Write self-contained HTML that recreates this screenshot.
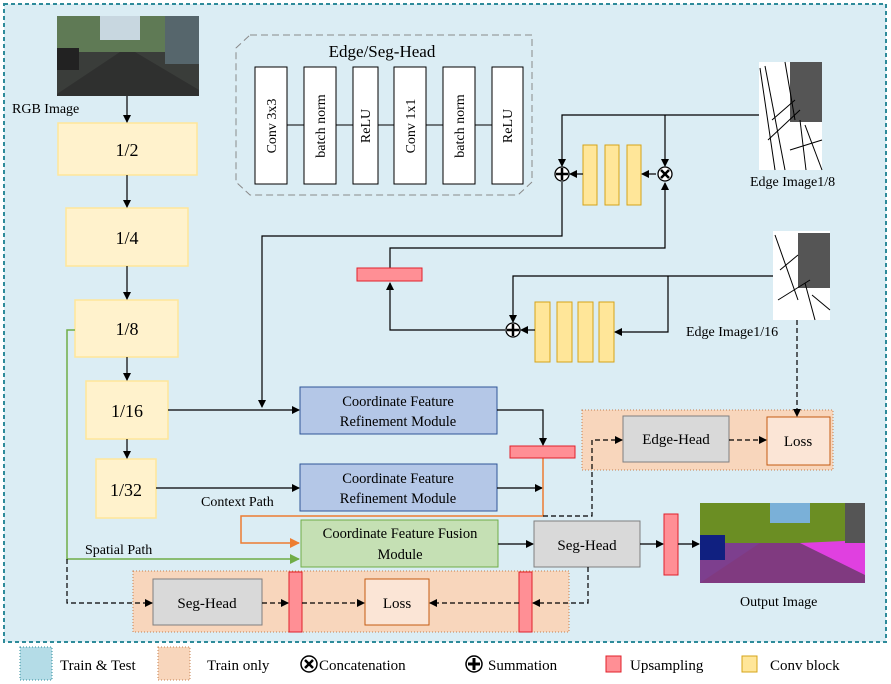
<!DOCTYPE html>
<html><head><meta charset="utf-8"><style>
html,body{margin:0;padding:0;background:#fff;}
svg{display:block;font-family:"Liberation Serif",serif;}
</style></head><body>
<svg width="891" height="684" viewBox="0 0 891 684" xmlns="http://www.w3.org/2000/svg">
<defs>
<marker id="a" markerWidth="8" markerHeight="8" refX="7" refY="4" orient="auto" markerUnits="userSpaceOnUse"><path d="M0,0 L8,4 L0,8 z" fill="#000"/></marker>
<marker id="ao" markerWidth="10" markerHeight="10" refX="9" refY="5" orient="auto" markerUnits="userSpaceOnUse"><path d="M0,0 L10,5 L0,10 z" fill="#ed7d31"/></marker>
<marker id="ag" markerWidth="10" markerHeight="10" refX="9" refY="5" orient="auto" markerUnits="userSpaceOnUse"><path d="M0,0 L10,5 L0,10 z" fill="#70ad47"/></marker>
</defs>
<rect x="4" y="4" width="882" height="638" fill="#dbedf4" stroke="#2e8b9a" stroke-width="2" stroke-dasharray="4,3"/>

<!-- RGB image -->
<rect x="57" y="16" width="142" height="80" fill="#3a3d3a"/>
<rect x="57" y="16" width="142" height="36" fill="#5f7a55"/>
<rect x="100" y="16" width="40" height="24" fill="#c8d7e0"/>
<rect x="165" y="16" width="34" height="48" fill="#56666c"/>
<polygon points="57,94 120,52 135,52 199,90 199,96 57,96" fill="#2f302f"/>
<rect x="57" y="48" width="22" height="22" fill="#222"/>
<text x="12" y="113" font-size="14">RGB Image</text>

<!-- left column -->
<g fill="#fff2cc" stroke="#ffe699" stroke-width="1.5">
<rect x="58" y="123" width="139" height="52"/>
<rect x="66" y="208" width="122" height="58"/>
<rect x="75" y="300" width="103" height="57"/>
<rect x="86" y="381" width="82" height="58"/>
<rect x="96" y="459" width="60" height="59"/>
</g>
<g font-size="18" text-anchor="middle">
<text x="127" y="156">1/2</text><text x="127" y="244">1/4</text><text x="127" y="335">1/8</text><text x="127" y="417">1/16</text><text x="126" y="496">1/32</text>
</g>
<g stroke="#000" stroke-width="1.2" marker-end="url(#a)">
<line x1="127" y1="96" x2="127" y2="122"/>
<line x1="127" y1="175" x2="127" y2="207"/>
<line x1="127" y1="266" x2="127" y2="299"/>
<line x1="127" y1="357" x2="127" y2="380"/>
<line x1="127" y1="439" x2="127" y2="458"/>
</g>

<!-- Edge/Seg-Head -->
<path d="M250,35 L532,35 L532,182 L518,195 L250,195 L236,182 L236,48 Z" fill="none" stroke="#8a8a8a" stroke-dasharray="7,4"/>
<text x="382" y="57" font-size="17" text-anchor="middle">Edge/Seg-Head</text>
<g fill="#fff" stroke="#000">
<rect x="255" y="67" width="32" height="117"/><rect x="304" y="67" width="32" height="117"/><rect x="353" y="67" width="25" height="117"/>
<rect x="394" y="67" width="32" height="117"/><rect x="443" y="67" width="32" height="117"/><rect x="492" y="67" width="31" height="117"/>
</g>
<g stroke="#000"><line x1="287" y1="125" x2="304" y2="125"/><line x1="336" y1="125" x2="353" y2="125"/><line x1="378" y1="125" x2="394" y2="125"/><line x1="426" y1="125" x2="443" y2="125"/><line x1="475" y1="125" x2="492" y2="125"/></g>
<g font-size="14" text-anchor="middle">
<text transform="translate(276,126) rotate(-90)">Conv 3x3</text>
<text transform="translate(325,126) rotate(-90)">batch norm</text>
<text transform="translate(370,126) rotate(-90)">ReLU</text>
<text transform="translate(415,126) rotate(-90)">Conv 1x1</text>
<text transform="translate(464,126) rotate(-90)">batch norm</text>
<text transform="translate(512,126) rotate(-90)">ReLU</text>
</g>

<!-- Edge image 1/8 -->
<rect x="759" y="62" width="63" height="108" fill="#fff"/>
<g stroke="#000" stroke-width="1" fill="none">
<rect x="790" y="62" width="32" height="60" fill="#555" stroke="none"/>
<path d="M760,68 L775,170"/><path d="M765,66 L785,170"/><path d="M768,140 L800,110"/><path d="M772,120 L795,100"/>
<path d="M800,120 L806,170"/><path d="M805,125 L822,170"/><path d="M790,150 L822,140"/><path d="M785,62 L795,120"/>
</g>
<text x="750" y="186" font-size="14">Edge Image1/8</text>
<!-- Edge image 1/16 -->
<rect x="773" y="231" width="57" height="89" fill="#fff"/>
<g stroke="#000" stroke-width="1" fill="none">
<rect x="798" y="233" width="32" height="55" fill="#555" stroke="none"/>
<path d="M775,235 L798,300"/><path d="M778,300 L810,280"/><path d="M805,283 L815,320"/><path d="M780,270 L798,255"/><path d="M812,295 L830,310"/>
</g>
<text x="686" y="336" font-size="14">Edge Image1/16</text>

<!-- conv blocks -->
<g fill="#ffe699" stroke="#d6a419">
<rect x="583" y="145" width="14" height="60"/><rect x="605" y="145" width="14" height="60"/><rect x="627" y="145" width="14" height="60"/>
<rect x="535" y="302" width="15" height="60"/><rect x="557" y="302" width="15" height="60"/><rect x="578" y="302" width="15" height="60"/><rect x="599" y="302" width="15" height="60"/>
</g>
<g stroke="#000" stroke-width="1.2" fill="none">
<polyline points="759,115 562,115 562,166" marker-end="url(#a)"/>
<line x1="665" y1="115" x2="665" y2="166" marker-end="url(#a)"/>
<line x1="656" y1="174" x2="642" y2="174" marker-end="url(#a)"/>
<line x1="583" y1="174" x2="570" y2="174" marker-end="url(#a)"/>
<polyline points="390,268 390,248 665,248 665,183" marker-end="url(#a)"/>
<polyline points="562,182 562,236 262,236 262,407" marker-end="url(#a)"/>
<polyline points="773,276 513,276 513,322" marker-end="url(#a)"/>
<polyline points="668,276 668,332 615,332" marker-end="url(#a)"/>
<line x1="535" y1="330" x2="521" y2="330" marker-end="url(#a)"/>
<polyline points="505,330 390,330 390,283" marker-end="url(#a)"/>
</g>
<g stroke="#000" stroke-width="1.3" fill="#fff">
<circle cx="562" cy="174" r="7"/><circle cx="665" cy="174" r="7"/><circle cx="513" cy="330" r="7"/>
</g>
<g stroke="#000" stroke-width="2.5">
<line x1="556" y1="174" x2="568" y2="174"/><line x1="562" y1="168" x2="562" y2="180"/>
<line x1="507" y1="330" x2="519" y2="330"/><line x1="513" y1="324" x2="513" y2="336"/>
<line x1="661" y1="170" x2="669" y2="178"/><line x1="669" y1="170" x2="661" y2="178"/>
</g>
<rect x="357" y="268" width="65" height="13" fill="#ff8f95" stroke="#e0202a"/>

<polyline points="75,330 67,330 67,559 299,559" fill="none" stroke="#70ad47" stroke-width="1.5" marker-end="url(#ag)"/>
<text x="85" y="554" font-size="14">Spatial Path</text>

<g fill="#b4c7e7" stroke="#2f5597"><rect x="300" y="387" width="197" height="47"/><rect x="300" y="464" width="197" height="47"/></g>
<g font-size="14.5" text-anchor="middle">
<text x="398" y="406">Coordinate Feature</text><text x="398" y="426">Refinement Module</text>
<text x="398" y="483">Coordinate Feature</text><text x="398" y="503">Refinement Module</text>
</g>
<g stroke="#000" stroke-width="1.2" fill="none">
<line x1="168" y1="410" x2="299" y2="410" marker-end="url(#a)"/>
<line x1="156" y1="488" x2="299" y2="488" marker-end="url(#a)"/>
<polyline points="497,410 543,410 543,445" marker-end="url(#a)"/>
<line x1="497" y1="488" x2="542" y2="488" marker-end="url(#a)"/>
</g>
<text x="201" y="506" font-size="14">Context Path</text>

<polyline points="543,458 543,516 241,516 241,543 299,543" fill="none" stroke="#ed7d31" stroke-width="1.5" marker-end="url(#ao)"/>
<rect x="510" y="446" width="65" height="12" fill="#ff8f95" stroke="#e0202a"/>

<rect x="301" y="520" width="197" height="47" fill="#c5e0b4" stroke="#70ad47"/>
<text x="400" y="538" font-size="14.5" text-anchor="middle">Coordinate Feature Fusion</text>
<text x="400" y="559" font-size="14.5" text-anchor="middle">Module</text>
<line x1="498" y1="544" x2="533" y2="544" stroke="#000" stroke-width="1.2" marker-end="url(#a)"/>
<rect x="534" y="521" width="106" height="46" fill="#d9d9d9" stroke="#7f7f7f"/>
<text x="587" y="550" font-size="15" text-anchor="middle">Seg-Head</text>
<line x1="640" y1="544" x2="663" y2="544" stroke="#000" stroke-width="1.2" marker-end="url(#a)"/>
<rect x="664" y="514" width="14" height="61" fill="#ff8f95" stroke="#e0202a"/>
<line x1="678" y1="544" x2="699" y2="544" stroke="#000" stroke-width="1.2" marker-end="url(#a)"/>
<rect x="700" y="503" width="165" height="80" fill="#7d3f8e"/>
<rect x="700" y="503" width="165" height="40" fill="#6b8e23"/>
<rect x="770" y="503" width="40" height="20" fill="#7ab0d8"/>
<polygon points="700,583 760,543 800,543 865,575 865,583" fill="#803a80"/>
<rect x="700" y="535" width="25" height="25" fill="#102080"/>
<polygon points="800,543 865,540 865,575" fill="#e040e0"/>
<rect x="845" y="503" width="20" height="40" fill="#555"/>
<text x="740" y="606" font-size="14">Output Image</text>

<rect x="133" y="571" width="436" height="61" fill="#f8d6bc" stroke="#c58050" stroke-dasharray="1,2"/>
<rect x="153" y="579" width="109" height="46" fill="#d9d9d9" stroke="#7f7f7f"/>
<text x="207" y="608" font-size="15" text-anchor="middle">Seg-Head</text>
<rect x="365" y="579" width="64" height="46" fill="#fbe5d6" stroke="#c55a11"/>
<text x="397" y="608" font-size="15" text-anchor="middle">Loss</text>
<rect x="289" y="572" width="13" height="60" fill="#ff8f95" stroke="#e0202a"/>
<rect x="519" y="572" width="13" height="60" fill="#ff8f95" stroke="#e0202a"/>
<g stroke="#000" stroke-width="1.2" fill="none" stroke-dasharray="5,3">
<polyline points="67,559 67,603 152,603" marker-end="url(#a)"/>
<line x1="262" y1="603" x2="288" y2="603" marker-end="url(#a)"/>
<line x1="302" y1="603" x2="364" y2="603" marker-end="url(#a)"/>
<line x1="519" y1="603" x2="430" y2="603" marker-end="url(#a)"/>
<polyline points="588,567 588,603 533,603" marker-end="url(#a)"/>
</g>

<rect x="582" y="410" width="251" height="60" fill="#f8d6bc" stroke="#c58050" stroke-dasharray="1,2"/>
<rect x="623" y="416" width="106" height="46" fill="#d9d9d9" stroke="#7f7f7f"/>
<text x="676" y="444" font-size="15" text-anchor="middle">Edge-Head</text>
<rect x="767" y="417" width="63" height="48" fill="#fbe5d6" stroke="#c55a11"/>
<text x="798" y="446" font-size="15" text-anchor="middle">Loss</text>
<g stroke="#000" stroke-width="1.2" fill="none" stroke-dasharray="5,3">
<polyline points="543,516 592,516 592,440 622,440" marker-end="url(#a)"/>
<line x1="729" y1="440" x2="766" y2="440" marker-end="url(#a)"/>
<line x1="797" y1="320" x2="797" y2="416" marker-end="url(#a)"/>
</g>

<rect x="20" y="647" width="32" height="33" fill="#b4dce7" stroke="#2e8b9a" stroke-dasharray="1,2"/>
<text x="60" y="670" font-size="15">Train &amp; Test</text>
<rect x="158" y="647" width="32" height="33" fill="#f8d6bc" stroke="#c58050" stroke-dasharray="1,2"/>
<text x="207" y="670" font-size="15">Train only</text>
<circle cx="309" cy="664" r="8" fill="#fff" stroke="#000" stroke-width="1.5"/>
<g stroke="#000" stroke-width="2.5"><line x1="305" y1="660" x2="313" y2="668"/><line x1="313" y1="660" x2="305" y2="668"/></g>
<text x="319" y="670" font-size="15">Concatenation</text>
<circle cx="474" cy="664" r="8" fill="#fff" stroke="#000" stroke-width="1.5"/>
<g stroke="#000" stroke-width="3"><line x1="468" y1="664" x2="480" y2="664"/><line x1="474" y1="658" x2="474" y2="670"/></g>
<text x="488" y="670" font-size="15">Summation</text>
<rect x="606" y="656" width="15" height="16" fill="#ff8f95" stroke="#e0202a"/>
<text x="630" y="670" font-size="15">Upsampling</text>
<rect x="742" y="656" width="15" height="16" fill="#ffe699" stroke="#d6a419"/>
<text x="770" y="670" font-size="15">Conv block</text>
</svg>
</body></html>
